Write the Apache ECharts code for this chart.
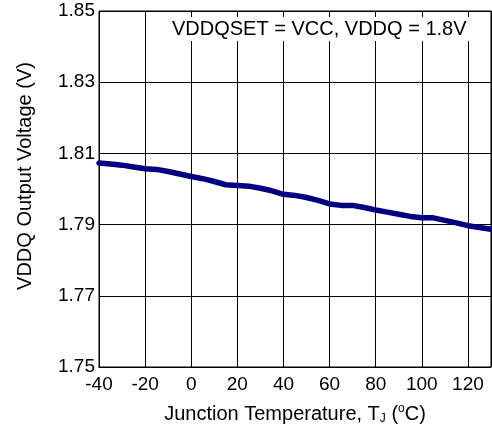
<!DOCTYPE html>
<html>
<head>
<meta charset="utf-8">
<script src="https://cdn.jsdelivr.net/npm/echarts@6.0.0/dist/echarts.min.js"></script>
<style>
  html, body { margin: 0; padding: 0; background: #fff; }
  #chart { width: 492px; height: 431px; }
</style>
</head>
<body>
<div id="chart"></div>
<script>
// junction temperature (degC) and VDDQ output (V)
const temps = [-40, -35, -30, -25, -20, -15, -10, -5, 0, 5, 10, 15, 20, 25, 30, 35, 40, 45, 50,
  55, 60, 65, 70, 75, 80, 85, 90, 95, 100, 105, 110, 115, 120, 125, 130];
const vddq = [1.8073, 1.8070, 1.8067, 1.8062, 1.8057, 1.8055, 1.8049, 1.8042, 1.8035, 1.8029,
  1.8021, 1.8012, 1.8010, 1.8008, 1.8002, 1.7995, 1.7985, 1.7982, 1.7976, 1.7968, 1.7958,
  1.7954, 1.7954, 1.7948, 1.7941, 1.7935, 1.7929, 1.7923, 1.7919, 1.7919, 1.7912, 1.7905,
  1.7897, 1.7892, 1.7887];
const xTicks = [-40, -20, 0, 20, 40, 60, 80, 100, 120];
const yTicks = ['1.75', '1.77', '1.79', '1.81', '1.83', '1.85'];
const note = 'VDDQSET = VCC, VDDQ = 1.8V';

// y axis is drawn as offset from 1.75 so the 0.02 ticks start at the bottom
const yBase = 1.75;
const font = 'Liberation Sans, Arial, sans-serif';

const chart = echarts.init(document.getElementById('chart'));
const option = {
  animation: false,
  title: {
    text: note,
    left: 168,
    top: 17,
    padding: [2, 4, 2, 4],
    backgroundColor: '#fff',
    textStyle: { fontFamily: font, fontSize: 20, fontWeight: 'normal', color: '#000' }
  },
  grid: {
    left: 99, right: 1, top: 11, bottom: 64,
    show: true, borderColor: '#000', borderWidth: 1
  },
  xAxis: {
    type: 'value',
    min: -40,
    max: 130,
    interval: 20,
    name: 'Junction Temperature, T{sub|J} ({sup|o}C)',
    nameLocation: 'middle',
    nameGap: 36,
    nameTextStyle: {
      fontFamily: font, fontSize: 20, color: '#000', lineHeight: 22,
      rich: {
        sub: { fontFamily: font, fontSize: 12, color: '#000', verticalAlign: 'bottom', lineHeight: 12 },
        sup: { fontFamily: font, fontSize: 12, color: '#000', verticalAlign: 'top', lineHeight: 12 }
      }
    },
    axisLine: { lineStyle: { color: '#000' } },
    axisTick: { show: false },
    axisLabel: {
      margin: 8,
      fontFamily: font, fontSize: 19, color: '#000',
      showMaxLabel: false,
      formatter: v => (xTicks.indexOf(v) >= 0 ? String(v) : '')
    },
    splitLine: { show: true, lineStyle: { color: '#000', width: 1 } }
  },
  yAxis: {
    type: 'value',
    min: 0,
    max: 0.1,
    interval: 0.02,
    name: 'VDDQ Output Voltage (V)',
    nameLocation: 'middle',
    nameGap: 64,
    nameTextStyle: { fontFamily: font, fontSize: 20, color: '#000', padding: [0, 0, 0, 26] },
    axisLine: { lineStyle: { color: '#000' } },
    axisTick: { show: false },
    axisLabel: {
      margin: 4,
      fontFamily: font, fontSize: 19, color: '#000',
      formatter: v => yTicks[Math.round(v / 0.02)]
    },
    splitLine: { show: true, lineStyle: { color: '#000', width: 1 } }
  },
  series: [{
    type: 'line',
    data: temps.map((t, i) => [t, vddq[i] - yBase]),
    showSymbol: false,
    symbol: 'none',
    lineStyle: { color: '#000080', width: 5.5, cap: 'round', join: 'round' },
    clip: true
  }]
};
chart.setOption(option);
</script>
</body>
</html>
